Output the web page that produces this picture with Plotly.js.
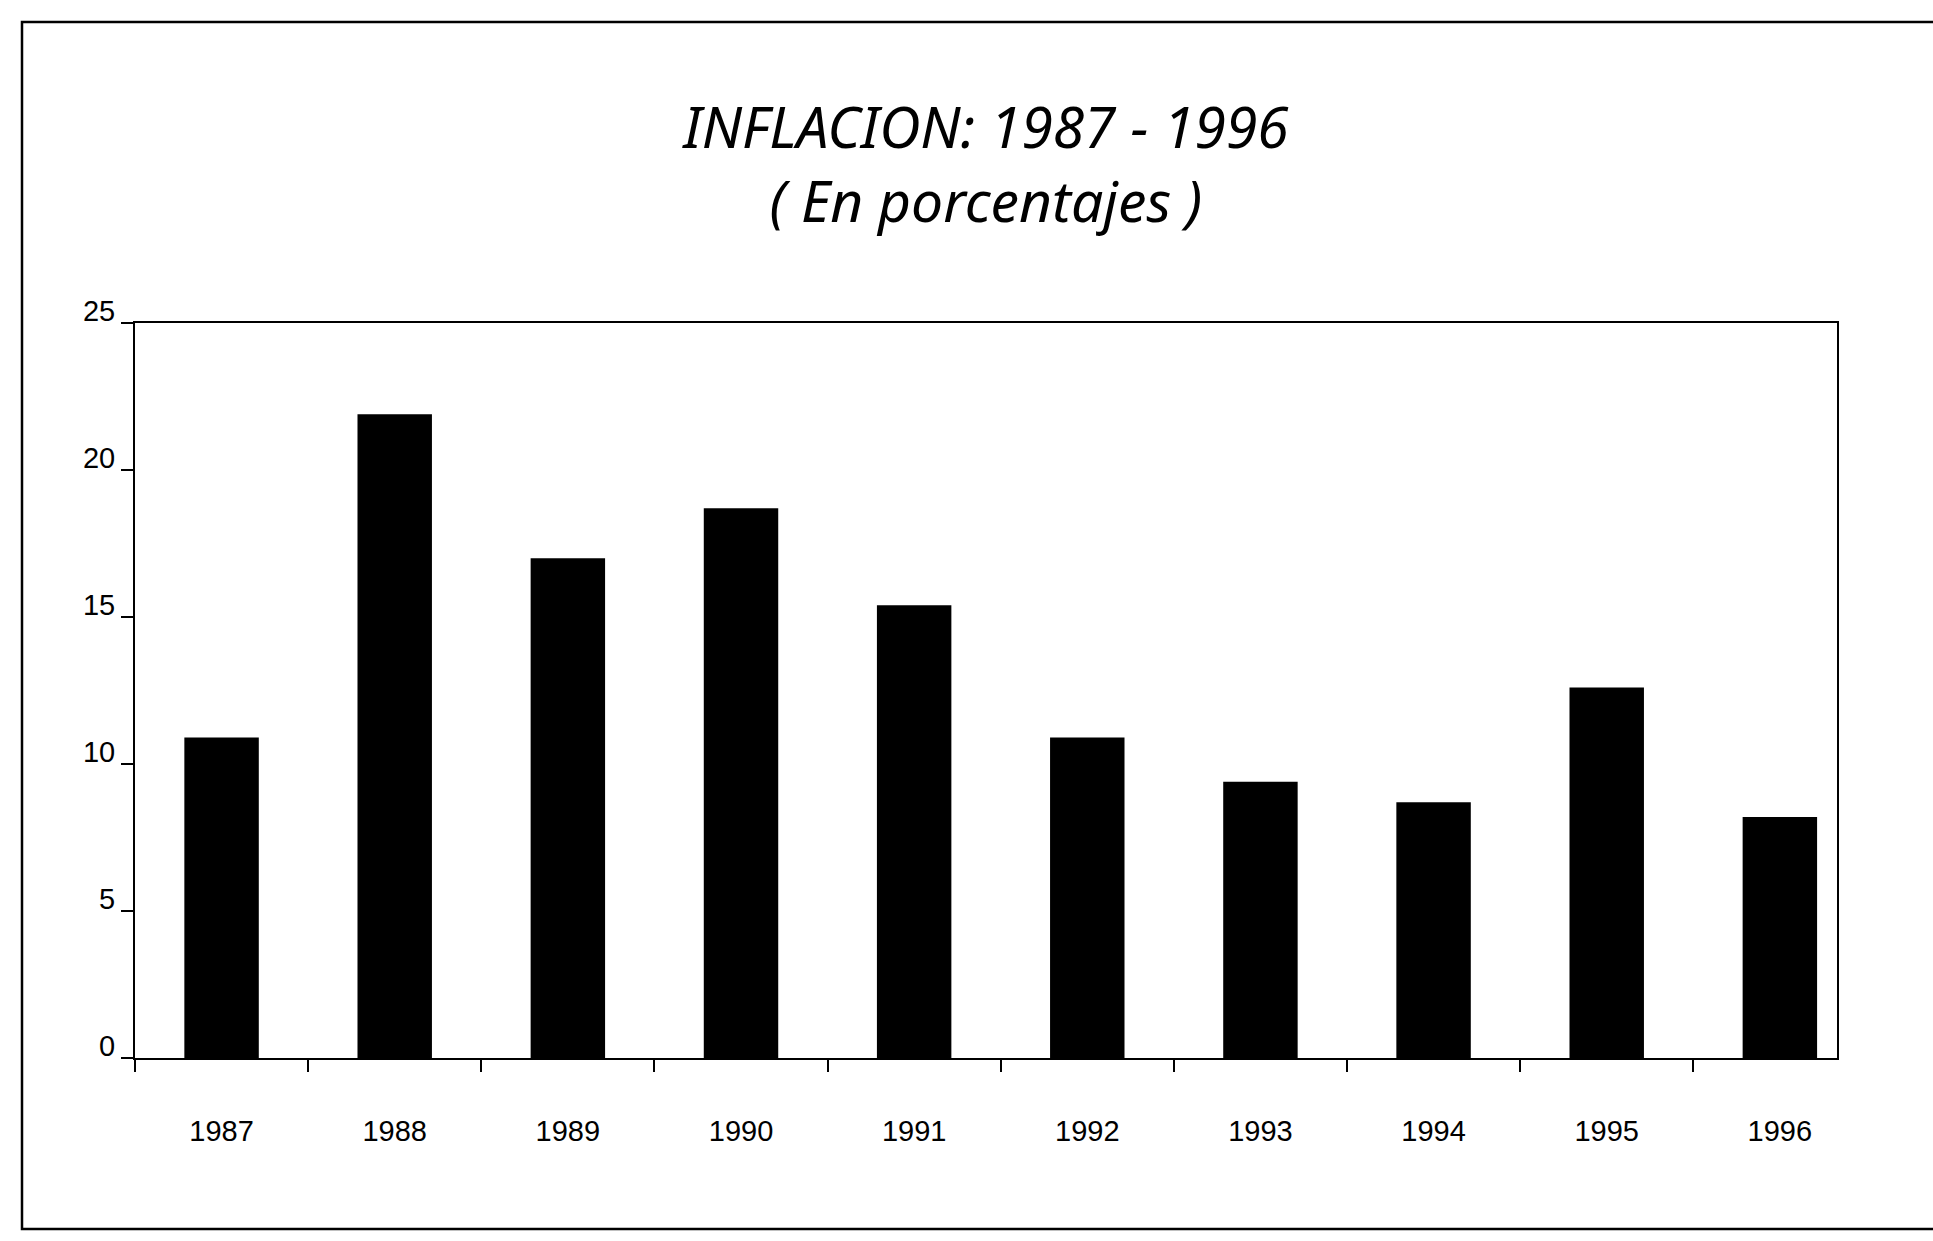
<!DOCTYPE html>
<html>
<head>
<meta charset="utf-8">
<script src="https://cdn.plot.ly/plotly-3.0.1.min.js"></script>
<style>
  html, body { margin: 0; padding: 0; background: #ffffff; }
  #chart { width: 1933px; height: 1241px; }
</style>
</head>
<body>
<div id="chart"></div>
<script>
// Data
var years = ["1987", "1988", "1989", "1990", "1991", "1992", "1993", "1994", "1995", "1996"];
var inflation = [10.9, 21.9, 17.0, 18.7, 15.4, 10.9, 9.4, 8.7, 12.6, 8.2];
var yTicks = [0, 5, 10, 15, 20, 25];
var titleText = "INFLACION: 1987 - 1996";
var subtitleText = "( En porcentajes )";

var W = 1933, H = 1241;
var L = 135, R = 96, T = 323, B = 183;
var plotW = W - L - R, plotH = H - T - B;

var trace = {
  type: "bar",
  x: years,
  y: inflation,
  width: 0.43,
  marker: { color: "#000000", line: { width: 0 } },
  hoverinfo: "x+y"
};

var layout = {
  width: W,
  height: H,
  margin: { l: L, r: R, t: T, b: B, pad: 0 },
  paper_bgcolor: "#ffffff",
  plot_bgcolor: "#ffffff",
  showlegend: false,
  title: {
    text: titleText + "<br>" + subtitleText,
    font: { family: "Noto Sans", size: 57, color: "#000000", style: "italic" },
    x: 0.5,
    xref: "paper",
    xanchor: "center",
    y: 1 - 148 / H,
    yref: "container",
    yanchor: "middle"
  },
  xaxis: {
    type: "category",
    range: [-0.5, 9.33],
    showline: true,
    linecolor: "#000000",
    linewidth: 2,
    mirror: true,
    showgrid: false,
    zeroline: false,
    ticks: "outside",
    tickson: "boundaries",
    ticklen: 12,
    tickwidth: 2,
    tickcolor: "#000000",
    ticklabelstandoff: 46,
    tickfont: { family: "Liberation Sans Narrow, Liberation Sans, Arial", size: 29, color: "#000000" },
    fixedrange: true
  },
  yaxis: {
    range: [0, 25],
    tickvals: yTicks,
    ticktext: yTicks.map(String),
    showline: true,
    linecolor: "#000000",
    linewidth: 2,
    mirror: true,
    showgrid: false,
    zeroline: false,
    ticks: "outside",
    ticklen: 12,
    tickwidth: 2,
    tickcolor: "#000000",
    ticklabelstandoff: 0,
    ticklabelshift: -12,
    tickfont: { family: "Liberation Sans, Arial", size: 29, color: "#000000" },
    fixedrange: true
  },
  shapes: [
    {
      type: "rect",
      xref: "paper",
      yref: "paper",
      x0: (22 - L) / plotW,
      x1: (1935 - L) / plotW,
      y0: -(1229 - (H - B)) / plotH,
      y1: ((H - B) - 22) / plotH,
      line: { color: "#000000", width: 2.5 },
      fillcolor: "rgba(0,0,0,0)",
      layer: "below"
    }
  ]
};

Plotly.newPlot("chart", [trace], layout, { displayModeBar: false, staticPlot: true });
</script>
</body>
</html>
